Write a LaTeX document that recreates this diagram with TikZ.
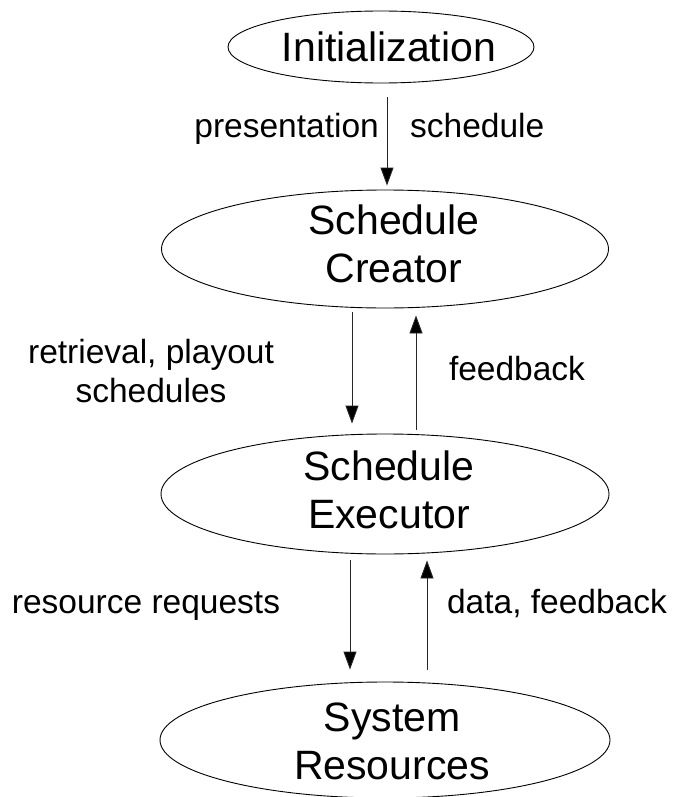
\documentclass[tikz,border=0pt]{standalone}
\usepackage{fontspec}
\setmainfont{Liberation Sans}
\usetikzlibrary{shapes.geometric,arrows.meta}
\begin{document}
\begin{tikzpicture}[x=1pt,y=-1pt,
  ell/.style={draw, ellipse, line width=0.9pt, inner sep=0pt},
  ntext/.style={font=\fontsize{41}{48}\selectfont, align=center, inner sep=0pt},
  ltext/.style={font=\fontsize{33.5}{39}\selectfont, align=center, inner sep=0pt},
  arr/.style={line width=0.9pt, draw=black!85, -{Triangle[length=18pt,width=13pt,fill=black]}}]
\useasboundingbox (0,0) rectangle (677,797);
% ellipses
\node[ell, minimum width=306pt, minimum height=72pt] (init) at (381,47) {};
\node[ell, minimum width=447pt, minimum height=118pt] (creator) at (385,249) {};
\node[ell, minimum width=448pt, minimum height=120pt] (exec) at (385,494) {};
\node[ell, minimum width=450pt, minimum height=116pt] (sys) at (385,740) {};
% node texts
\node[ntext, anchor=base] (initT) at (389,62) {Initialization};
\node[ntext] (creatorT) at (394,244) {Schedule\\Creator};
\node[ntext] (execT) at (389,490) {Schedule\\Executor};
\node[ntext] (sysT) at (392,741) {System\\Resources};
% connectors
\draw[arr] ([xshift=6pt,yshift=-14pt]init.south) -- ([xshift=2pt,yshift=4pt]creator.north);
\draw[arr] ([xshift=-33pt,yshift=-4pt]creator.south) -- ([xshift=-33pt,yshift=10pt]exec.north);
\draw[arr] ([xshift=31pt,yshift=4pt]exec.north) -- ([xshift=31pt,yshift=-7pt]creator.south);
\draw[arr] ([xshift=-35pt,yshift=-6pt]exec.south) -- ([xshift=-35pt,yshift=12pt]sys.north);
\draw[arr] ([xshift=42pt,yshift=12pt]sys.north) -- ([xshift=42pt,yshift=-6pt]exec.south);
% labels
\node[ltext, anchor=base east] (lpres) at (379,138) {presentation};
\node[ltext, anchor=base west] (lsched) at (410,138) {schedule};
\node[ltext] (lretr) at (151,371) {retrieval, playout\\schedules};
\node[ltext, anchor=base] (lfeed) at (517,380) {feedback};
\node[ltext, anchor=base] (lres) at (146,613) {resource requests};
\node[ltext, anchor=base] (ldata) at (557,613) {data, feedback};
\end{tikzpicture}
\end{document}
